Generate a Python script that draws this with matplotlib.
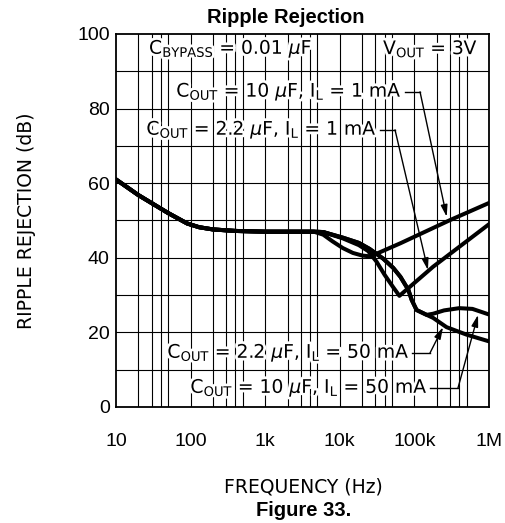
import matplotlib.pyplot as plt
import matplotlib.patheffects as pe
from matplotlib.ticker import FixedLocator, NullLocator

# shared low-frequency part (Hz, dB)
common_f = [10, 20, 50, 90, 130, 200, 400, 1000, 4500]
common_db = [61, 56.8, 52, 49.2, 48.2, 47.6, 47.2, 47, 47]

# COUT = 10 uF, IL = 1 mA
c10_1ma_f = [6e3, 8e3, 11e3, 15e3, 20e3, 25e3, 32e3, 65e3, 300e3, 1e6]
c10_1ma_db = [46.2, 44.4, 42.6, 41.3, 40.6, 40.4, 41.2, 43.9, 50.1, 54.7]

# COUT = 2.2 uF, IL = 1 mA
c22_1ma_f = [6e3, 11e3, 18e3, 24e3, 31e3, 40e3, 52e3, 63e3, 178e3, 1e6]
c22_1ma_db = [46.9, 45.2, 43.4, 41.8, 39.0, 35.4, 32.1, 29.8, 37.6, 49.0]

# both 50 mA curves share this part
c50_f = [6e3, 11e3, 18e3, 25e3, 38e3, 52e3, 65e3, 83e3, 92e3, 107e3, 146e3]
c50_db = [46.9, 45.4, 44.0, 42.4, 39.8, 37.3, 34.9, 31.4, 28.7, 26.0, 24.7]

# COUT = 10 uF, IL = 50 mA
c10_50ma_f = [178e3, 250e3, 400e3, 600e3, 1e6]
c10_50ma_db = [25.0, 25.9, 26.5, 26.3, 24.8]

# COUT = 2.2 uF, IL = 50 mA
c22_50ma_f = [178e3, 270e3, 500e3, 1e6]
c22_50ma_db = [23.9, 21.4, 19.4, 17.6]

x_ticks = [10, 100, 1e3, 1e4, 1e5, 1e6]
x_tick_labels = ["10", "100", "1k", "10k", "100k", "1M"]
y_ticks = [0, 20, 40, 60, 80, 100]

fig = plt.figure(figsize=(5.06, 5.23), dpi=100)
ax = fig.add_axes([0.2292, 0.2218, 0.7372, 0.7132])
ax.set_xscale("log")
ax.set_xlim(10, 1e6)
ax.set_ylim(0, 100)

# grid: decades plus 2,3,4,5 in each decade, every 10 dB
vlines = [d * m for d in [10, 100, 1e3, 1e4, 1e5] for m in [2, 3, 4, 5, 10]]
for v in vlines:
    ax.axvline(v, color="black", lw=0.8, zorder=1)
for h in range(10, 100, 10):
    ax.axhline(h, color="black", lw=0.8, zorder=1)

curve = dict(color="black", lw=2.9, solid_capstyle="round",
             solid_joinstyle="round", zorder=3)
ax.plot(common_f + c10_1ma_f, common_db + c10_1ma_db, **curve)
ax.plot(common_f + c22_1ma_f, common_db + c22_1ma_db, **curve)
ax.plot(common_f + c50_f + c10_50ma_f, common_db + c50_db + c10_50ma_db, **curve)
ax.plot(common_f + c50_f + c22_50ma_f, common_db + c50_db + c22_50ma_db, **curve)

ax.xaxis.set_major_locator(FixedLocator(x_ticks))
ax.xaxis.set_minor_locator(NullLocator())
ax.set_xticklabels(x_tick_labels)
ax.set_yticks(y_ticks)
ax.tick_params(length=0, labelsize=14)
ax.tick_params(axis="x", pad=19)
ax.tick_params(axis="y", pad=4.5)
for lab in ax.get_xticklabels() + ax.get_yticklabels():
    lab.set_family("Liberation Sans")
for s in ax.spines.values():
    s.set_linewidth(1.3)

halo = [pe.withStroke(linewidth=4, foreground="white")]
txt = dict(fontsize=13.5, color="black", va="center", zorder=5,
           path_effects=halo, family="DejaVu Sans")

ax.text(27.7, 96, r"C$_{\rm BYPASS}$ = 0.01 $\mu$F", ha="left", **txt)
ax.text(38e3, 96, r"V$_{\rm OUT}$ = 3V", ha="left", **txt)
ax.text(68e3, 84.5, r"C$_{\rm OUT}$ = 10 $\mu$F, I$_{\rm L}$ = 1 mA", ha="right", **txt)
ax.text(31.5e3, 74.3, r"C$_{\rm OUT}$ = 2.2 $\mu$F, I$_{\rm L}$ = 1 mA", ha="right", **txt)
ax.text(87e3, 14.5, r"C$_{\rm OUT}$ = 2.2 $\mu$F, I$_{\rm L}$ = 50 mA", ha="right", **txt)
ax.text(152e3, 5.1, r"C$_{\rm OUT}$ = 10 $\mu$F, I$_{\rm L}$ = 50 mA", ha="right", **txt)

# leader lines with arrows
arrow = dict(arrowstyle="-|>,head_length=0.7,head_width=0.2", color="black",
             lw=1.0, shrinkA=0, shrinkB=0)
leaders = [
    ((75e3, 84.5), (119e3, 84.5), (271e3, 51.0)),
    ((34.6e3, 74.3), (55e3, 74.3), (152e3, 36.7)),
    ((93e3, 14.5), (162e3, 14.5), (242e3, 21.4)),
    ((162e3, 5.1), (384e3, 5.1), (713e3, 24.7)),
]
for start, corner, tip in leaders:
    ax.plot([start[0], corner[0]], [start[1], corner[1]], color="black",
            lw=1.0, zorder=4)
    ax.annotate("", xy=tip, xytext=corner, arrowprops=arrow, zorder=4)

fig.text(0.565, 0.966, "Ripple Rejection", ha="center", va="center",
         fontsize=14.5, fontweight="bold", family="Liberation Sans")
fig.text(0.053, 0.578, "RIPPLE REJECTION (dB)", rotation=90, ha="center",
         va="center", fontsize=13.5, family="DejaVu Sans")
fig.text(0.60, 0.069, "FREQUENCY (Hz)", ha="center", va="center",
         fontsize=13.5, family="DejaVu Sans")
fig.text(0.60, 0.023, "Figure 33.", ha="center", va="center",
         fontsize=14.5, fontweight="bold", family="Liberation Sans")

fig.savefig("out.png", dpi=100)
